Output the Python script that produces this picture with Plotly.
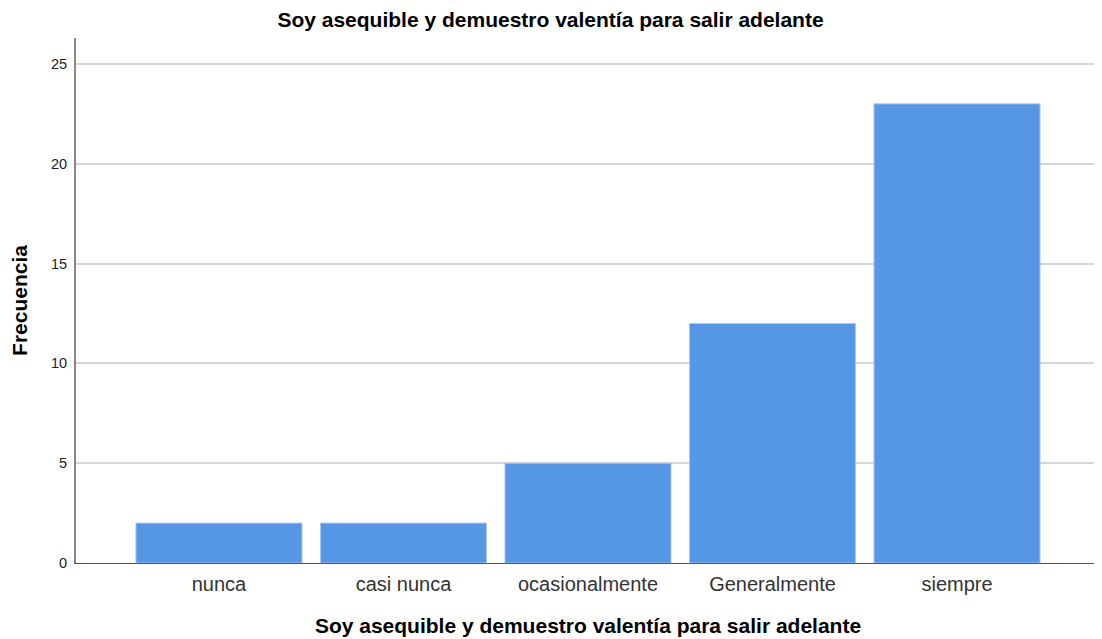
import plotly.graph_objects as go

categories = ["nunca", "casi nunca", "ocasionalmente", "Generalmente", "siempre"]
frecuencia = [2, 2, 5, 12, 23]
y_ticks = [0, 5, 10, 15, 20, 25]
title_text = "Soy asequible y demuestro valentía para salir adelante"

fig = go.Figure(
    go.Bar(
        x=categories,
        y=frecuencia,
        width=0.9,
        marker=dict(color="#5596e5", line=dict(color="#a9c9f2", width=1)),
        hoverinfo="x+y",
    )
)

fig.update_layout(
    width=1102,
    height=639,
    margin=dict(l=61, r=10, t=30, b=84),
    paper_bgcolor="white",
    plot_bgcolor="white",
    font=dict(family="Liberation Sans, Arial, sans-serif", color="#000000"),
    title=dict(
        text="<b>" + title_text + "</b>",
        x=0.4923,
        xanchor="center",
        y=1 - 12 / 639,
        yanchor="middle",
        font=dict(size=21, color="#000000"),
    ),
    showlegend=False,
    bargap=0.1,
)

fig.update_xaxes(
    range=[-0.775, 4.775],
    showline=True,
    linecolor="#555555",
    linewidth=1,
    ticks="",
    ticklabelstandoff=3,
    tickfont=dict(size=20, color="#333333"),
    title=dict(text="<b>" + title_text + "</b>", font=dict(size=21, color="#000000"), standoff=24),
    showgrid=False,
)

fig.update_yaxes(
    range=[0, 26.3],
    tickvals=y_ticks,
    showline=True,
    linecolor="#888888",
    linewidth=2,
    ticks="",
    ticklabelstandoff=4,
    tickfont=dict(size=14.5, color="#222222"),
    showgrid=True,
    gridcolor="#d6d6d6",
    gridwidth=2,
    zeroline=False,
    title=dict(text="<b>Frecuencia</b>", font=dict(size=21, color="#000000"), standoff=18),
)

fig.write_html("out.html")
